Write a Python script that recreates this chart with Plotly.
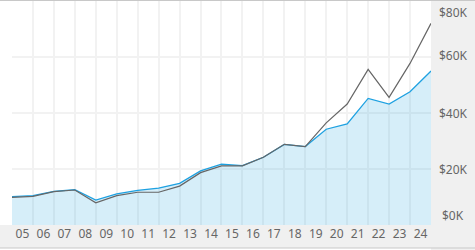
import plotly.graph_objects as go

# Data (point at start of each year; labels centered on the year period)
dates = [f"{y}-01-01" for y in range(2005, 2026)]
fund = [10.1, 10.5, 12.0, 12.6, 8.9, 11.1, 12.4, 13.2, 14.9, 19.3, 21.7,
        21.2, 24.2, 28.8, 28.0, 34.2, 36.1, 45.2, 43.2, 47.6, 55.0]
bench = [9.9, 10.2, 11.9, 12.5, 7.9, 10.5, 11.7, 11.7, 13.9, 18.7, 21.1,
         21.1, 24.2, 28.8, 28.0, 36.5, 43.2, 55.6, 45.6, 57.7, 72.0]
ytick_vals = [0, 20000, 40000, 60000, 80000]
ytick_text = ["$0K", "$20K", "$40K", "$60K", "$80K"]

fund_v = [v * 1000 for v in fund]
bench_v = [v * 1000 for v in bench]

fig = go.Figure()
fig.add_trace(go.Scatter(x=dates, y=fund_v, mode="lines", fill="tozeroy",
                         fillcolor="rgba(0,150,220,0.16)",
                         line=dict(color="#1ea1e1", width=1.3),
                         hoverinfo="skip", showlegend=False))
fig.add_trace(go.Scatter(x=dates, y=bench_v, mode="lines",
                         line=dict(color="#666666", width=1.2),
                         hoverinfo="skip", showlegend=False))

W, H = 475, 250
L, R, T, B = 12, 44, 1, 25
pw = W - L - R
ph = H - T - B

def px_x(x):
    return (x - L) / pw

def px_y(y):
    return (H - B - y) / ph

shapes = [
    # right panel
    dict(type="rect", xref="paper", yref="paper", x0=1, x1=px_x(W + 2),
         y0=px_y(H + 2), y1=px_y(-2), fillcolor="#f0f0f0", line_width=0, layer="below"),
    # bottom band
    dict(type="rect", xref="paper", yref="paper", x0=px_x(-2), x1=px_x(W + 2),
         y0=px_y(248), y1=0, fillcolor="#f0f0f0", line_width=0, layer="below"),
    # bottom line
    dict(type="line", xref="paper", yref="paper", x0=px_x(-2), x1=px_x(W + 2),
         y0=px_y(248), y1=px_y(248), line=dict(color="#c8c8c8", width=1)),
    # top line
    dict(type="line", xref="paper", yref="paper", x0=px_x(-2), x1=px_x(W + 2),
         y0=px_y(0.5), y1=px_y(0.5), line=dict(color="#c8c8c8", width=1)),
]

shifts = [10, 0, 0, 2, -11]
annotations = []
for v, t, s in zip(ytick_vals, ytick_text, shifts):
    annotations.append(dict(x=px_x(453), xref="paper", y=v, yref="y", text=t,
                            showarrow=False, xanchor="center", yanchor="middle",
                            yshift=s, font=dict(family="Noto Sans", size=12, color="#666666")))

fig.update_layout(
    width=W, height=H,
    margin=dict(l=L, r=R, t=T, b=B, pad=0),
    paper_bgcolor="white", plot_bgcolor="white",
    shapes=shapes, annotations=annotations,
    xaxis=dict(type="date", range=[dates[0], dates[-1]], dtick="M12",
               tick0=dates[0], tickformat="%y", ticklabelmode="period",
               showgrid=True, gridcolor="#f2f2f2", gridwidth=2,
               zeroline=False, showline=False, ticks="",
               tickfont=dict(family="Noto Sans", size=12, color="#666666")),
    yaxis=dict(range=[0, 80000], tickvals=ytick_vals, showticklabels=False,
               showgrid=True, gridcolor="#f2f2f2", gridwidth=2,
               zeroline=False, showline=False, ticks=""),
)

fig.write_html("out.html")
